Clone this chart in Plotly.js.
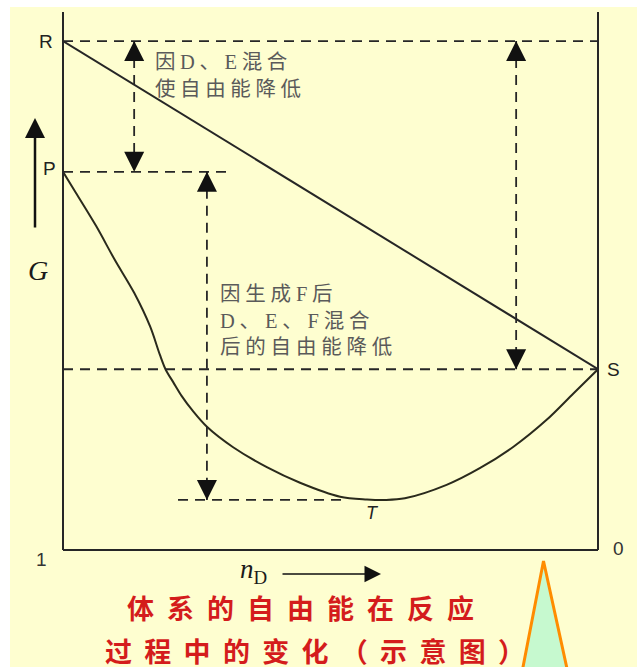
<!DOCTYPE html>
<html><head><meta charset="utf-8">
<script src="https://cdn.plot.ly/plotly-3.0.1.min.js"></script>
<style>
html,body{margin:0;padding:0;background:#fff;}
#chart{width:637px;height:667px;}
</style>
</head><body><div id="chart"></div>
<script>
// ---------- data ----------
// mole fraction axis: 1 at the left edge, 0 at the right edge
const nD = [1.000,0.976,0.938,0.903,0.867,0.837,0.819,0.808,0.794,0.778,0.757,0.731,0.682,0.619,0.557,0.482,0.432,0.398,0.361,0.283,0.221,0.158,0.096,0.046,0.000];
// free energy of the reacting mixture (arbitrary units, box = 0..100)
const G_mixture = [70.3,66.4,60.2,53.9,47.8,41.5,36.3,33.5,31.2,28.6,25.8,22.9,19.1,15.4,12.5,9.9,9.4,9.3,9.6,12.1,15.2,19.2,24.2,29.1,33.6];
// D + E mixed, no reaction (straight line R -> S)
const nD_straight = [1, 0];
const G_straight = [94.6, 33.6];

// named levels
const levelNames = ['R','P','S','T'];
const levelG = [94.6, 70.3, 33.6, 9.3];

// dashed guide lines (level, from nD, to nD)
const guideLevel = ['R','P','S','T'];
const guideFrom  = [1, 1, 1, 0.785];
const guideTo    = [0, 0.688, 0, 0.47];

// double-headed dashed arrows (position, top level, bottom level)
const arrowNd   = [0.867, 0.731, 0.153];
const arrowTop  = ['R','P','R'];
const arrowBot  = ['P','T','S'];

// texts
const note1 = '因D、E混合<br>使自由能降低';
const note2 = '因生成F后<br>D、E、F混合<br>后的自由能降低';
const captionLines = ['体系的自由能在反应','过程中的变化（示意图）'];
const axisEndLabels = ['1','0'];
const yTitle = 'G';
const xTitle = '<i>n</i><sub>D</sub>';

// ---------- layout helpers ----------
const W=637, H=667, ML=63, MR=39, MT=12, MB=117;
const pw = W-ML-MR, ph = H-MT-MB;
const px = x => (x-ML)/pw;          // pixel -> paper x
const py = y => (H-MB-y)/ph;        // pixel -> paper y
const lev = n => levelG[levelNames.indexOf(n)];

const INK = '#262626';
const CREAM = '#FEFED0';

const traces = [
  {x: nD_straight, y: G_straight, mode:'lines', line:{color:INK, width:2}, hoverinfo:'skip'},
  {x: nD, y: G_mixture, mode:'lines', line:{color:'#2a2a1c', width:2, shape:'spline', smoothing:0.9}, hoverinfo:'skip'}
];

const shapes = [];
// cream slide background
shapes.push({type:'rect', xref:'paper', yref:'paper', x0:px(10), x1:px(W+5), y0:py(7), y1:py(H+5),
  fillcolor:CREAM, line:{width:0}, layer:'below'});
// frame: left, right, bottom
shapes.push({type:'line', xref:'paper', yref:'paper', x0:0, x1:0, y0:0, y1:1, line:{color:INK,width:2}});
shapes.push({type:'line', xref:'paper', yref:'paper', x0:1, x1:1, y0:0, y1:1, line:{color:INK,width:2}});
shapes.push({type:'line', xref:'paper', yref:'paper', x0:0, x1:1, y0:0, y1:0, line:{color:INK,width:2}});
// dashed guides
guideLevel.forEach((n,i)=>{
  shapes.push({type:'line', xref:'x', yref:'y', x0:guideFrom[i], x1:guideTo[i], y0:lev(n), y1:lev(n),
    line:{color:INK, width:1.8, dash:'10px,7px'}});
});
// dashed arrow shafts
arrowNd.forEach((x,i)=>{
  shapes.push({type:'line', xref:'x', yref:'y', x0:x, x1:x, y0:lev(arrowTop[i]), y1:lev(arrowBot[i]),
    line:{color:INK, width:1.8, dash:'10px,7px'}});
});
// decorative callout pointer (slide decoration)
shapes.push({type:'path', xref:'paper', yref:'paper',
  path:`M${px(520.5)},${py(680)} L${px(543.5)},${py(561)} L${px(569.5)},${py(680)} Z`,
  fillcolor:'#C6F9CF', line:{color:'#FF8C00', width:3}});

const annotations = [];
const sans = 'Liberation Sans, Arial, sans-serif';
const serif = 'Liberation Serif, Times New Roman, serif';
// arrowheads
arrowNd.forEach((x,i)=>{
  annotations.push({x:x, y:lev(arrowTop[i]), xref:'x', yref:'y', text:'', showarrow:true,
    ax:0, ay:18, arrowhead:2, arrowwidth:2, arrowsize:2.0, arrowcolor:'#111'});
  annotations.push({x:x, y:lev(arrowBot[i]), xref:'x', yref:'y', text:'', showarrow:true,
    ax:0, ay:-18, arrowhead:2, arrowwidth:2, arrowsize:2.0, arrowcolor:'#111'});
});
// level labels
const lblFont = {family:sans,size:19,color:'#222'};
annotations.push({x:0, y:lev('R'), xref:'paper', yref:'y', text:'R', showarrow:false, xanchor:'right', yanchor:'middle', xshift:-8, font:lblFont});
annotations.push({x:0, y:lev('P'), xref:'paper', yref:'y', text:'P', showarrow:false, xanchor:'right', yanchor:'middle', xshift:-5, yshift:3, font:lblFont});
annotations.push({x:1, y:lev('S'), xref:'paper', yref:'y', text:'S', showarrow:false, xanchor:'left', yanchor:'middle', xshift:7, font:lblFont});
annotations.push({x:0.422, y:lev('T'), xref:'x', yref:'y', text:'<i>T</i>', showarrow:false, xanchor:'center', yanchor:'top', yshift:-1, font:{family:sans,size:18,color:'#222'}});
// axis end labels
annotations.push({x:px(41), y:py(559), xref:'paper', yref:'paper', text:axisEndLabels[0], showarrow:false, xanchor:'center', yanchor:'middle', font:{family:sans,size:19,color:'#333'}});
annotations.push({x:px(618), y:py(548), xref:'paper', yref:'paper', text:axisEndLabels[1], showarrow:false, xanchor:'center', yanchor:'middle', font:{family:sans,size:19,color:'#333'}});
// G with upward arrow
annotations.push({x:px(38), y:py(270), xref:'paper', yref:'paper', text:'<i>'+yTitle+'</i>', showarrow:false, xanchor:'center', yanchor:'middle', font:{family:serif,size:28,color:'#1a1a1a'}});
annotations.push({x:px(35), y:py(118), xref:'paper', yref:'paper', text:'', showarrow:true, ax:0, ay:111, arrowhead:2, arrowwidth:2.5, arrowsize:1.6, arrowcolor:'#111'});
// n_D with right arrow
annotations.push({x:px(238), y:py(571), xref:'paper', yref:'paper', text:xTitle, showarrow:false, xanchor:'left', yanchor:'middle', font:{family:serif,size:27,color:'#1a1a1a'}});
annotations.push({x:px(381), y:py(574), xref:'paper', yref:'paper', text:'', showarrow:true, ax:-100, ay:0, arrowhead:2, arrowwidth:1.5, arrowsize:2.2, arrowcolor:'#111'});
// notes
const noteFont = {family:'Liberation Serif, Noto Sans CJK SC, serif', size:20.5, color:'#5a5a5a'};
const iNote1 = annotations.length;
annotations.push({x:px(153), y:py(75.5), xref:'paper', yref:'paper', text:note1, showarrow:false, xanchor:'left', yanchor:'middle', align:'left', font:noteFont});
const iNote2 = annotations.length;
annotations.push({x:px(218), y:py(320), xref:'paper', yref:'paper', text:note2, showarrow:false, xanchor:'left', yanchor:'middle', align:'left', font:noteFont});
// red caption
const capFont = {family:'Noto Sans CJK SC, sans-serif', size:27, color:'#D41C1C', weight:'bold'};
const iCap1 = annotations.length;
annotations.push({x:px(125), y:py(607), xref:'paper', yref:'paper', text:captionLines[0], showarrow:false, xanchor:'left', yanchor:'middle', align:'left', font:capFont});
const iCap2 = annotations.length;
annotations.push({x:px(103), y:py(651), xref:'paper', yref:'paper', text:captionLines[1], showarrow:false, xanchor:'left', yanchor:'middle', align:'left', font:capFont});

const layout = {
  width:W, height:H,
  margin:{l:ML, r:MR, t:MT, b:MB, pad:0},
  paper_bgcolor:'#ffffff', plot_bgcolor:'rgba(0,0,0,0)',
  showlegend:false, hovermode:false,
  xaxis:{range:[1,0], showgrid:false, zeroline:false, showticklabels:false, ticks:'', showline:false, fixedrange:true},
  yaxis:{range:[0,100], showgrid:false, zeroline:false, showticklabels:false, ticks:'', showline:false, fixedrange:true},
  shapes:shapes, annotations:annotations
};

const spacing = [[iNote1,4.6],[iNote2,4.8],[iCap1,13],[iCap2,12.3]];
Plotly.newPlot('chart', traces, layout, {staticPlot:true, displayModeBar:false}).then(gd=>{
  spacing.forEach(([idx, ls])=>{
    const t = gd.querySelector('.annotation[data-index="'+idx+'"] .annotation-text');
    if(t) t.style.letterSpacing = ls+'px';
  });
});
</script>
</body></html>
